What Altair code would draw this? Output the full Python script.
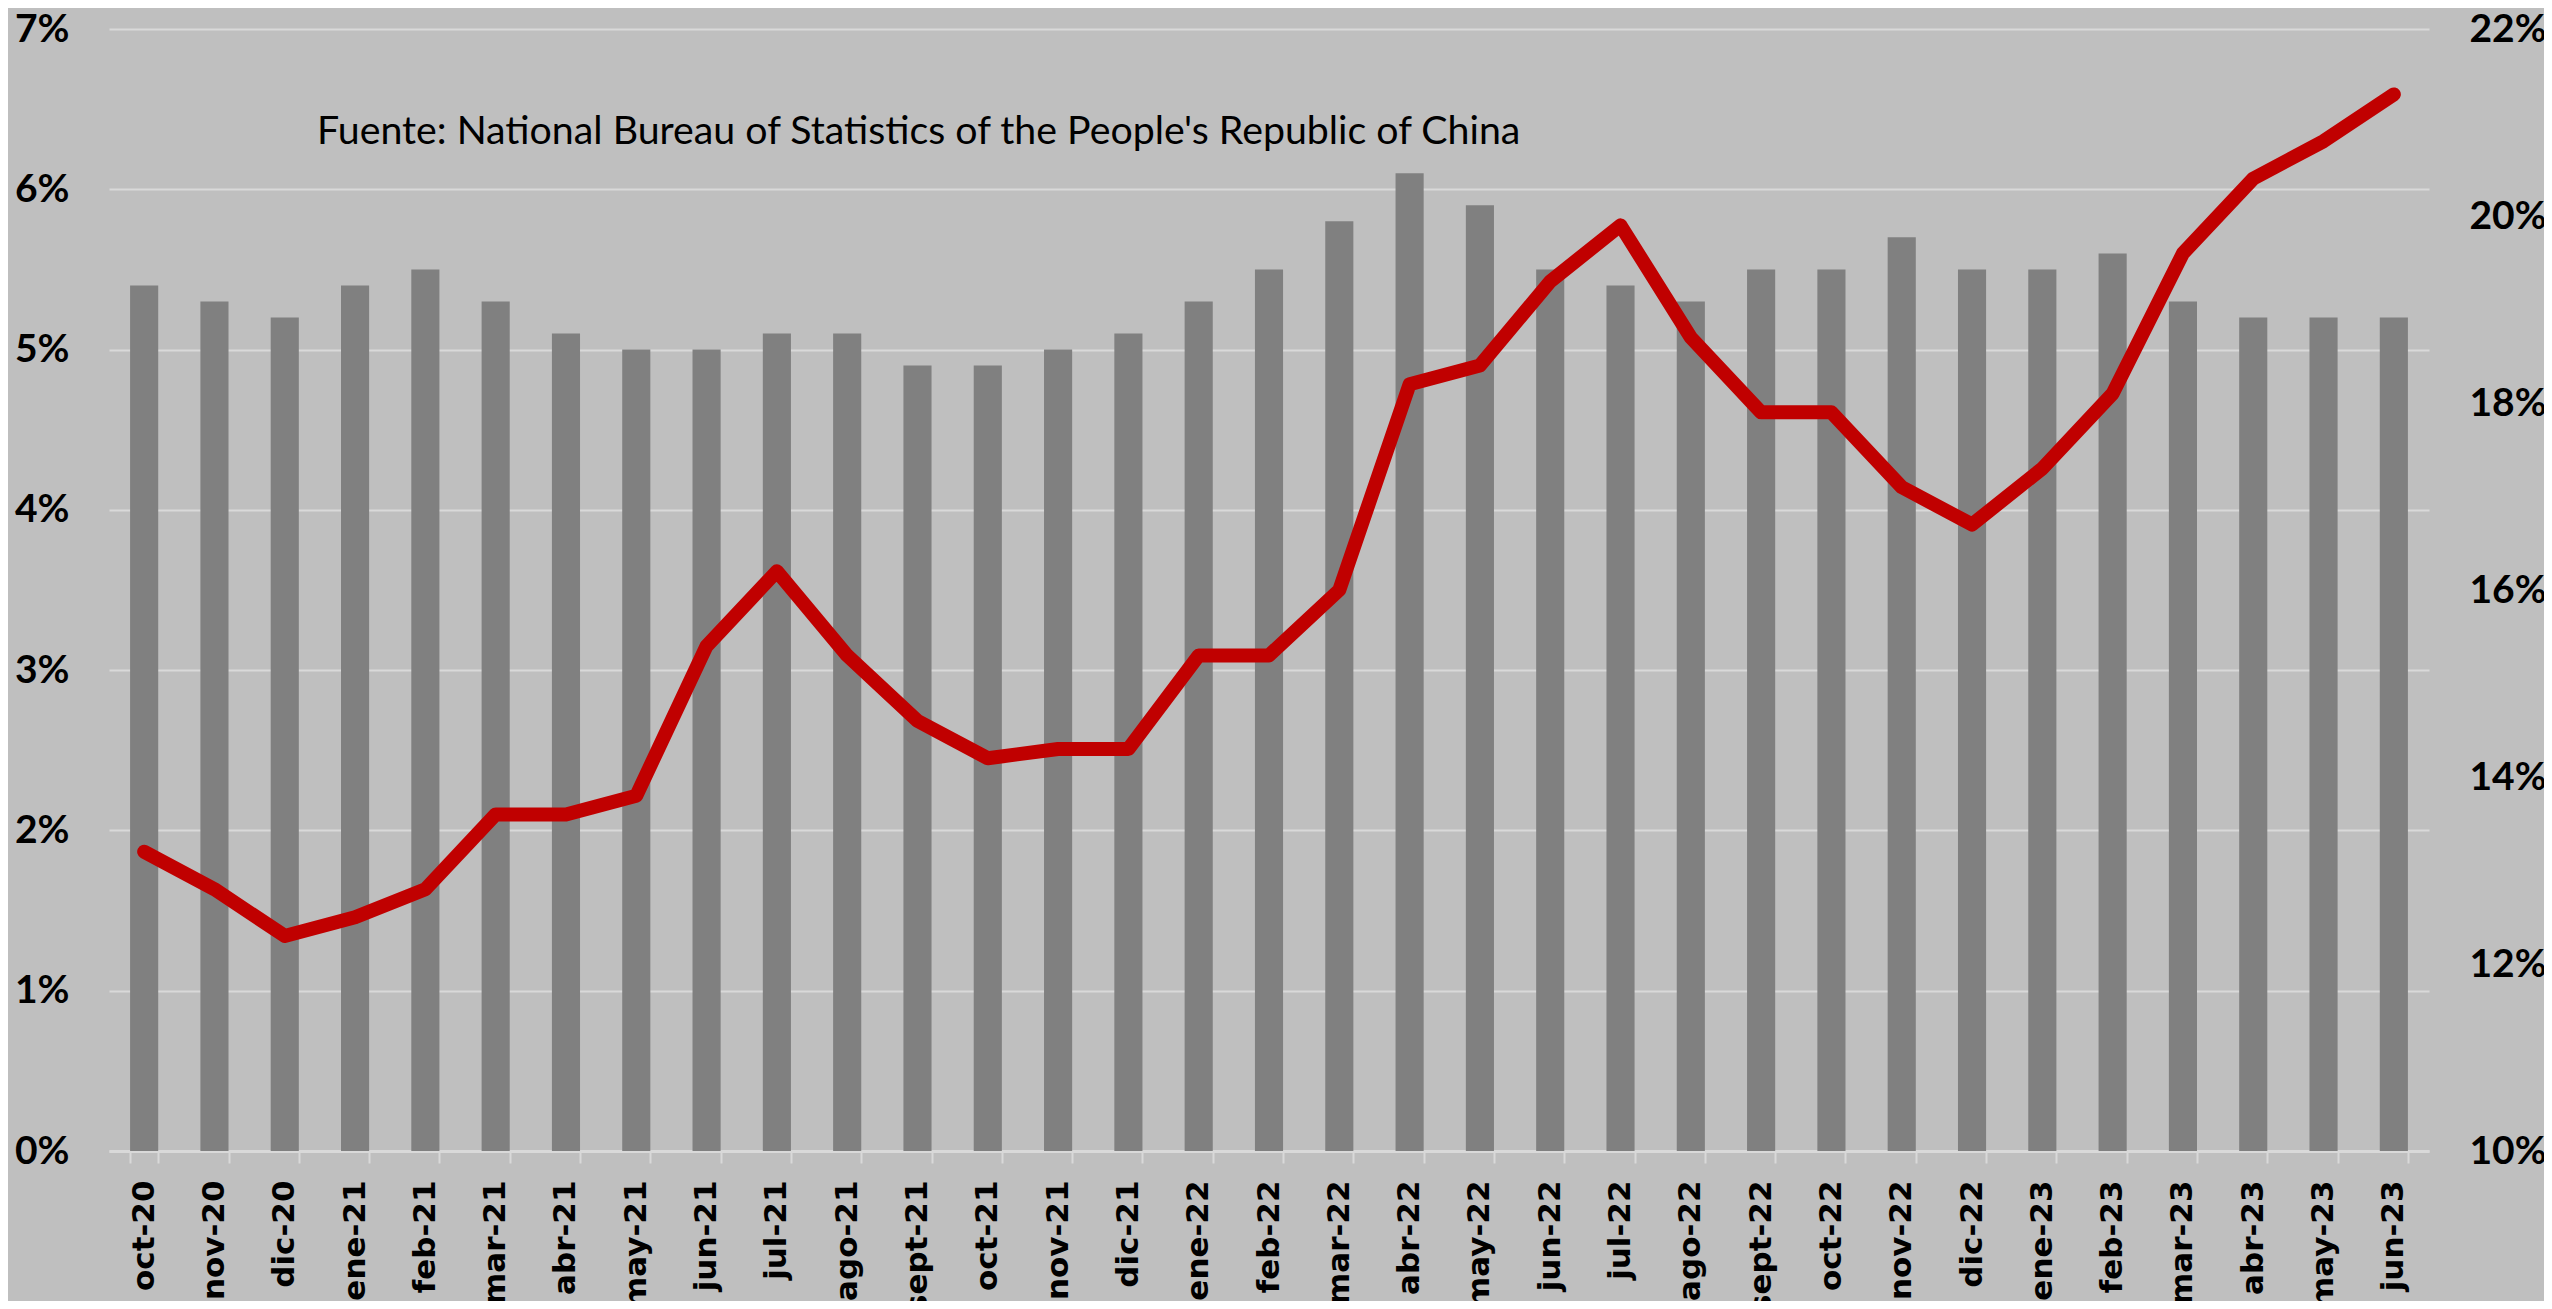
import altair as alt
import pandas as pd

months = ["oct-20", "nov-20", "dic-20", "ene-21", "feb-21", "mar-21", "abr-21", "may-21",
          "jun-21", "jul-21", "ago-21", "sept-21", "oct-21", "nov-21", "dic-21", "ene-22",
          "feb-22", "mar-22", "abr-22", "may-22", "jun-22", "jul-22", "ago-22", "sept-22",
          "oct-22", "nov-22", "dic-22", "ene-23", "feb-23", "mar-23", "abr-23", "may-23", "jun-23"]

# desempleo urbano total (eje izquierdo, %)
total = [5.4, 5.3, 5.2, 5.4, 5.5, 5.3, 5.1, 5.0,
         5.0, 5.1, 5.1, 4.9, 4.9, 5.0, 5.1, 5.3,
         5.5, 5.8, 6.1, 5.9, 5.5, 5.4, 5.3, 5.5,
         5.5, 5.7, 5.5, 5.5, 5.6, 5.3, 5.2, 5.2, 5.2]

# desempleo juvenil 16-24 (eje derecho, %)
juvenil = [13.2, 12.8, 12.3, 12.5, 12.8, 13.6, 13.6, 13.8,
           15.4, 16.2, 15.3, 14.6, 14.2, 14.3, 14.3, 15.3,
           15.3, 16.0, 18.2, 18.4, 19.3, 19.9, 18.7, 17.9,
           17.9, 17.1, 16.7, 17.3, 18.1, 19.6, 20.4, 20.8, 21.3]

left_ticks = [0, 1, 2, 3, 4, 5, 6, 7]
right_ticks = [10, 12, 14, 16, 18, 20, 22]
source_text = "Fuente: National Bureau of Statistics of the People's Republic of China"

df = pd.DataFrame({"mes": months, "total": total, "juvenil": juvenil})

x_enc = alt.X(
    "mes:N", sort=months, title=None,
    scale=alt.Scale(paddingInner=0.6, paddingOuter=0.3),
    axis=alt.Axis(
        labelAngle=-90, labelAlign="right", labelBaseline="middle",
        labelFont="DejaVu Sans", labelFontWeight="bold", labelFontSize=31,
        labelColor="#000000", labelPadding=17,
        domainColor="#d9d9d9", domainWidth=3,
        tickColor="#d9d9d9", tickWidth=2, tickSize=12, tickBand="extent",
        grid=False, labelOverlap=False,
    ),
)

bars = alt.Chart(df).mark_bar(color="#808080").encode(
    x=x_enc,
    y=alt.Y(
        "total:Q", title=None,
        scale=alt.Scale(domain=[0, 7], nice=False),
        axis=alt.Axis(
            orient="left", values=left_ticks,
            labelExpr="datum.value + '%'",
            labelFont="Lato", labelFontWeight="bold", labelFontSize=39,
            labelColor="#000000", labelPadding=40,
            domain=False, ticks=False,
            grid=True, gridColor="#d9d9d9", gridWidth=2,
        ),
    ),
)

text = alt.Chart(pd.DataFrame({"t": [source_text]})).mark_text(
    align="left", baseline="alphabetic", font="Lato", fontSize=39.3,
    color="#000000", dx=-24
).encode(
    x=alt.XDatum("ene-21", bandPosition=0),
    y=alt.YDatum(6.28, scale=alt.Scale(domain=[0, 7], nice=False), axis=None),
    text="t:N",
)

line = alt.Chart(df).mark_line(
    color="#c00000", strokeWidth=14, strokeCap="round", strokeJoin="round"
).encode(
    x=alt.X("mes:N", sort=months),
    y=alt.Y(
        "juvenil:Q", title=None,
        scale=alt.Scale(domain=[10, 22], nice=False),
        axis=alt.Axis(
            orient="right", values=right_ticks,
            labelExpr="datum.value + '%'",
            labelFont="Lato", labelFontWeight="bold", labelFontSize=39,
            labelColor="#000000", labelPadding=40,
            domain=False, ticks=False, grid=False,
        ),
    ),
)

chart = alt.layer(bars, text, line).resolve_scale(y="independent").properties(
    width=2320, height=1122,
    autosize=alt.AutoSizeParams(type="none"),
    padding={"left": 101, "top": 21, "right": 115, "bottom": 150},
    background="#bfbfbf",
).configure_view(stroke=None)

chart.save("out.html", embed_options={"renderer": "svg", "actions": False})
